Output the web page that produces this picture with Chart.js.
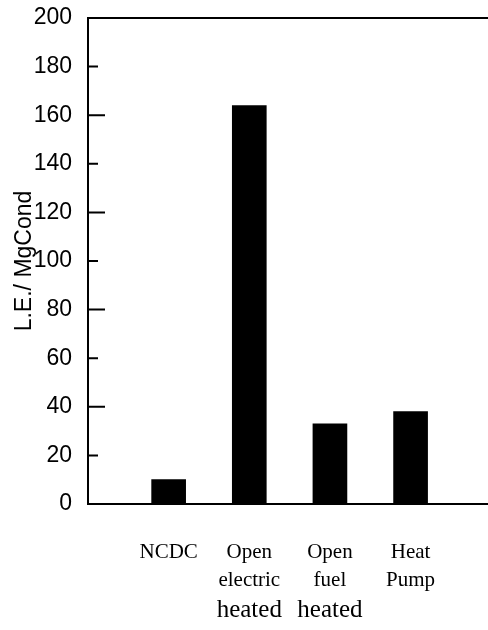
<!DOCTYPE html>
<html>
<head>
<meta charset="utf-8" />
<style>
  html, body { margin: 0; padding: 0; background: #fff; }
  #wrap { width: 488px; height: 630px; }
</style>
</head>
<body>
<div id="wrap">
  <canvas id="c" width="488" height="630"></canvas>
</div>
<script src="https://cdn.jsdelivr.net/npm/chart.js@4.4.3/dist/chart.umd.min.js"></script>
<script>
// data
const categories = [['NCDC'], ['Open', 'electric'], ['Open', 'fuel'], ['Heat', 'Pump']];
const thirdLine = ['', 'heated', 'heated', ''];
const values = [10, 164, 33, 38];
const yTitle = 'L.E./ MgCond';

const slots = categories.map((_, i) => i + 1);

function placeTicks(scale) {
  scale.ticks = slots.map((v) => ({ value: v }));
}

// inward tick marks on the y axis, plus the top frame line
const frame = {
  id: 'frame',
  afterDraw(chart) {
    const { ctx, chartArea, scales } = chart;
    const y = scales.y;
    ctx.save();
    ctx.strokeStyle = '#000';
    ctx.lineWidth = 2;
    ctx.beginPath();
    ctx.moveTo(chartArea.left, chartArea.top);
    ctx.lineTo(chartArea.right, chartArea.top);
    y.ticks.forEach((t) => {
      if (t.value === 0 || t.value === 200) return;
      const py = y.getPixelForValue(t.value);
      const len = t.value % 40 === 0 ? 17 : 10;
      ctx.moveTo(chartArea.left, py);
      ctx.lineTo(chartArea.left + len, py);
    });
    ctx.stroke();
    ctx.restore();
  }
};

new Chart(document.getElementById('c').getContext('2d'), {
  type: 'bar',
  data: {
    datasets: [{
      data: values.map((v, i) => ({ x: slots[i], y: v })),
      backgroundColor: '#000',
      borderWidth: 0,
      barThickness: 34
    }]
  },
  options: {
    responsive: false,
    animation: false,
    layout: { padding: { left: 7, right: 0, top: 18, bottom: 0 } },
    plugins: { legend: { display: false }, tooltip: { enabled: false } },
    scales: {
      x: {
        type: 'linear',
        position: 'bottom',
        offset: false,
        min: 0,
        max: 4.96,
        weight: 1,
        afterBuildTicks: placeTicks,
        afterFit(scale) { scale.height = 90; },
        grid: { display: false, drawTicks: false, offset: false },
        border: { display: true, color: '#000', width: 2 },
        ticks: {
          padding: 34,
          color: '#000',
          maxRotation: 0,
          autoSkip: false,
          font: { family: "'Liberation Serif', 'Times New Roman', serif", size: 21, lineHeight: 1.333 },
          callback: (v) => categories[v - 1]
        }
      },
      x2: {
        type: 'linear',
        position: 'bottom',
        offset: false,
        min: 0,
        max: 4.96,
        weight: 2,
        afterBuildTicks: placeTicks,
        afterFit(scale) { scale.height = 36; },
        grid: { display: false, drawTicks: false, offset: false },
        border: { display: false },
        ticks: {
          padding: 1,
          color: '#000',
          maxRotation: 0,
          autoSkip: false,
          font: { family: "'Liberation Serif', 'Times New Roman', serif", size: 25, lineHeight: 1.2 },
          callback: (v) => thirdLine[v - 1]
        }
      },
      y: {
        min: 0,
        max: 200,
        afterFit(scale) {
          scale.width = 81;
          scale.paddingTop = 0;
          scale.paddingBottom = 0;
        },
        grid: { display: false, drawTicks: false },
        border: { display: true, color: '#000', width: 2 },
        ticks: {
          stepSize: 20,
          padding: 16,
          color: '#000',
          font: { family: "'Liberation Sans', Arial, sans-serif", size: 23 }
        },
        title: {
          display: true,
          text: yTitle,
          color: '#000',
          padding: { top: 4, bottom: 0 },
          font: { family: "'Liberation Sans', Arial, sans-serif", size: 23 }
        }
      }
    }
  },
  plugins: [frame]
});
</script>
</body>
</html>
